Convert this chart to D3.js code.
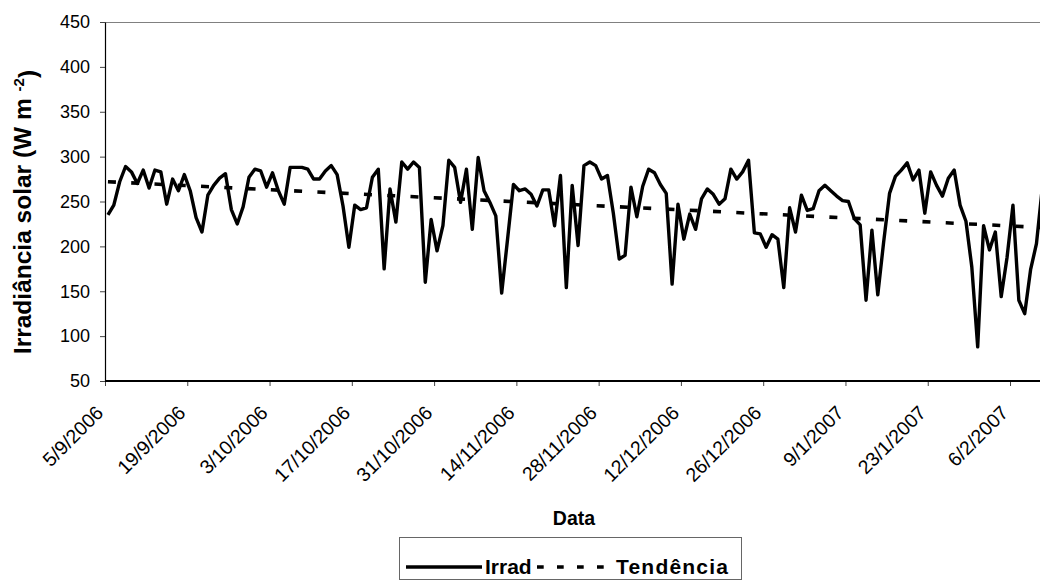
<!DOCTYPE html>
<html>
<head>
<meta charset="utf-8">
<script src="https://cdn.jsdelivr.net/npm/d3@7/dist/d3.min.js"></script>
<style>
  html, body { margin: 0; padding: 0; background: #ffffff; }
  svg { display: block; }
  text { font-family: "Liberation Sans", Arial, sans-serif; fill: #000; }
</style>
</head>
<body>
<svg id="chart" width="1040" height="581"></svg>
<script>
// ---------- data ----------
const startDate = "5/9/2006";           // first daily value
const irrad = [
  235, 246, 272, 289, 283, 270, 285, 265, 285, 283,
  247, 275, 262, 280, 262, 232, 216, 257, 268, 276,
  281, 241, 225, 244, 277, 286, 284, 266, 282, 262,
  247, 288, 288, 288, 286, 275, 275, 284, 290, 280,
  245, 199, 246, 241, 243, 277, 286, 175, 264, 227,
  294, 286, 294, 288, 160, 230, 195, 223, 296, 288,
  249, 286, 219, 299, 262, 249, 234, 148, 208, 269,
  262, 264, 258, 245, 263, 263, 223, 279, 154, 268,
  201, 290, 294, 290, 275, 279, 237, 186, 190, 266,
  233, 267, 286, 282, 269, 259, 158, 247, 208, 236,
  219, 253, 264, 258, 247, 253, 286, 275, 283, 296,
  215, 214, 199, 213, 208, 154, 243, 216, 257, 240,
  242, 262, 268, 262, 256, 251, 250, 231, 224, 140,
  218, 146, 205, 259, 278, 285, 293, 274, 285, 237,
  283, 268, 256, 276, 285, 246, 228, 177, 88, 223,
  196, 216, 144, 188, 246, 140, 125, 174, 203, 266
];
const trendValues = [272, 221];         // Tendência at first and last day
const xTickLabels = ["5/9/2006", "19/9/2006", "3/10/2006", "17/10/2006", "31/10/2006",
  "14/11/2006", "28/11/2006", "12/12/2006", "26/12/2006", "9/1/2007", "23/1/2007", "6/2/2007"];
const yTicks = [50, 100, 150, 200, 250, 300, 350, 400, 450];
const seriesNames = ["Irrad", "Tendência"];

// ---------- scales ----------
const parse = d3.utcParse("%d/%m/%Y");
const d0 = parse(startDate);
const dates = irrad.map((v, i) => d3.utcHour.offset(d3.utcDay.offset(d0, i), 12));
const xEnd = d3.utcDay.offset(d0, irrad.length - 1);

const plot = { left: 105, top: 22, bottom: 381, right: 1039.4 };
const x = d3.scaleUtc().domain([d0, xEnd]).range([plot.left, plot.right]);
const y = d3.scaleLinear().domain([50, 450]).range([plot.bottom, plot.top]);

const svg = d3.select("#chart");

// plot-area top border
svg.append("line")
  .attr("x1", plot.left).attr("x2", 1040)
  .attr("y1", plot.top + 0.5).attr("y2", plot.top + 0.5)
  .attr("stroke", "#808080").attr("stroke-width", 1);

// ---------- y axis ----------
const yAxis = svg.append("g")
  .attr("transform", `translate(${plot.left},0)`)
  .call(d3.axisLeft(y).tickValues(yTicks).tickSize(5).tickPadding(10).tickSizeOuter(0));
yAxis.select(".domain").attr("stroke", "#000").attr("stroke-width", 1.2);
yAxis.selectAll(".tick line").attr("stroke", "#444");
yAxis.selectAll(".tick text")
  .style("font-size", "18px")
  .style("font-family", "'Liberation Sans', Arial, sans-serif");

// ---------- x axis ----------
const xAxis = svg.append("g")
  .attr("transform", `translate(0,${plot.bottom})`)
  .call(d3.axisBottom(x).tickValues(xTickLabels.map(parse)).tickSize(5).tickSizeOuter(0)
    .tickFormat((d, i) => xTickLabels[i]));
xAxis.select(".domain").remove();
xAxis.append("line")
  .attr("x1", plot.left).attr("x2", 1040).attr("y1", 0).attr("y2", 0)
  .attr("stroke", "#000").attr("stroke-width", 2.2);
xAxis.selectAll(".tick line").attr("stroke", "#444");
xAxis.selectAll(".tick text")
  .attr("x", 0).attr("y", 0).attr("dy", 0)
  .attr("transform", "translate(-1,33) rotate(-45)")
  .style("text-anchor", "end")
  .style("font-size", "19.5px")
  .style("font-family", "'Liberation Sans', Arial, sans-serif");

// ---------- series ----------
svg.append("defs").append("clipPath").attr("id", "clip")
  .append("rect").attr("x", plot.left).attr("y", 0).attr("width", 1040 - plot.left).attr("height", plot.bottom + 2);

const line = d3.line().x((d, i) => x(dates[i])).y(d => y(d));
svg.append("path")
  .datum(irrad)
  .attr("clip-path", "url(#clip)")
  .attr("d", line)
  .attr("fill", "none")
  .attr("stroke", "#000")
  .attr("stroke-width", 3.4)
  .attr("stroke-linejoin", "round");

const trendDates = [dates[0], dates[dates.length - 1]];
svg.append("path")
  .datum(trendValues)
  .attr("clip-path", "url(#clip)")
  .attr("d", d3.line().x((d, i) => x(trendDates[i])).y(d => y(d)))
  .attr("fill", "none")
  .attr("stroke", "#000")
  .attr("stroke-width", 3.6)
  .attr("stroke-dasharray", "8,15.3");

// ---------- titles ----------
svg.append("text")
  .attr("x", 574).attr("y", 525)
  .attr("text-anchor", "middle")
  .style("font-size", "19.5px").style("font-weight", "bold")
  .text("Data");

const yt = svg.append("text")
  .attr("transform", "translate(31,212) rotate(-90)")
  .attr("text-anchor", "middle")
  .style("font-size", "24.5px").style("font-weight", "bold");
yt.append("tspan").text("Irradiância solar (W m ");
yt.append("tspan").attr("dy", "-0.5em").style("font-size", "15px").text("-2");
yt.append("tspan").attr("dy", "0.5em").text(")");

// ---------- legend ----------
const lg = svg.append("g");
lg.append("rect")
  .attr("x", 399.5).attr("y", 537.5).attr("width", 342).attr("height", 42)
  .attr("fill", "#fff").attr("stroke", "#666").attr("stroke-width", 1);
lg.append("line")
  .attr("x1", 406).attr("x2", 482).attr("y1", 567).attr("y2", 567)
  .attr("stroke", "#000").attr("stroke-width", 3.6);
lg.append("text").attr("x", 485).attr("y", 574)
  .style("font-size", "21px").style("font-weight", "bold").text(seriesNames[0]);
lg.append("line")
  .attr("x1", 537).attr("x2", 609).attr("y1", 567).attr("y2", 567)
  .attr("stroke", "#000").attr("stroke-width", 3.6)
  .attr("stroke-dasharray", "6.7,13.3");
lg.append("text").attr("x", 616).attr("y", 574)
  .style("font-size", "21px").style("font-weight", "bold")
  .style("letter-spacing", "1.2px")
  .text(seriesNames[1]);
</script>
</body>
</html>
